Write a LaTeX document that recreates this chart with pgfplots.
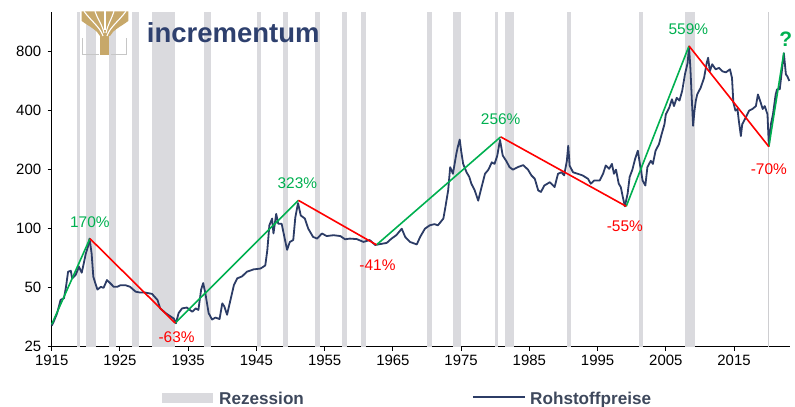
\documentclass[border=0pt]{standalone}
\usepackage{fontspec}
\setmainfont{Liberation Sans}
\usepackage{pgfplots}
\pgfplotsset{compat=1.18}
\definecolor{recgray}{RGB}{218,218,222}
\definecolor{navyline}{RGB}{44,60,102}
\definecolor{logonavy}{RGB}{46,64,110}
\definecolor{gold}{RGB}{199,168,106}
\definecolor{tgreen}{RGB}{0,176,80}
\definecolor{tred}{RGB}{255,0,0}
\definecolor{legtext}{RGB}{62,72,92}
\begin{document}
\begin{tikzpicture}
\useasboundingbox (-51.7bp,-60.3bp) rectangle (743.3bp,346.7bp);
\begin{axis}[
  at={(0,0)}, anchor=south west,
  scale only axis, width=738.3bp, height=334.4bp,
  xmin=1915, xmax=2023.2, ymin=25, ymax=1270, ymode=log,
  axis x line*=bottom, axis y line*=left,
  axis line style={-, black, line width=1.3bp},
  xtick={1915,1925,1935,1945,1955,1965,1975,1985,1995,2005,2015},
  xticklabels={1915,1925,1935,1945,1955,1965,1975,1985,1995,2005,2015},
  ytick={25,50,100,200,400,800},
  yticklabels={25,50,100,200,400,800},
  minor tick num=0, yminorticks=false,
  tick align=outside, major tick length=4bp,
  tick style={black, line width=1bp},
  ticklabel style={font=\fontsize{15}{15}\selectfont},
  yticklabel style={xshift=-3bp},
  xticklabel style={yshift=-1bp},
  clip=false,
]
% recession bands
\foreach \a/\b in {1918.66/1919.14,1920.02/1921.48,1923.39/1924.41,1926.75/1927.78,1929.63/1933.04,1937.33/1938.31,1945.05/1945.67,1948.85/1949.68,1953.53/1954.26,1957.59/1958.22,1960.27/1961.0,1969.93/1970.76,1973.88/1975.05,1980.02/1980.46,1981.48/1982.75,1990.46/1991.04,2001.1/2001.7,2007.87/2009.29}{
  \edef\tmp{\noexpand\addplot[draw=none, fill=recgray] coordinates {(\a,25) (\a,1270) (\b,1270) (\b,25)} -- cycle;}
  \tmp
}
\addplot[color=recgray!85!black!70, line width=0.8bp] coordinates {(2020.02,25) (2020.02,1270)};
% commodity price index
\addplot[navyline, line width=1.8bp, line join=round] coordinates {
(1915.0,32.0) (1915.3,33.6) (1915.8,37.1) (1916.3,43.3) (1916.8,44.2) (1917.1,50.6) (1917.4,60.3) (1917.8,61) (1918.0,55.8) (1918.5,58) (1919.0,63.9) (1919.4,59.6) (1919.7,66.5) (1920.0,74.7) (1920.3,80.7) (1920.55,89) (1920.85,74.7) (1921.1,56.9) (1921.4,52.6) (1921.7,48.9) (1922.2,50.5) (1922.6,49.9) (1923.1,54.7) (1923.6,52.6) (1924.1,50.5) (1924.6,50.5) (1925.1,51.5) (1925.8,51.5) (1926.5,50.5) (1927.3,47.7) (1928.0,47.2) (1928.7,47.2) (1929.7,46.5) (1930.5,43.3) (1930.9,39.2) (1931.7,37.1) (1932.4,35.7) (1932.9,34.8) (1933.2,32.9) (1933.6,37.1) (1934.1,39.2) (1934.8,39.6) (1935.6,37.7) (1936.1,39.2) (1936.5,38.5) (1936.9,48.9) (1937.2,52.8) (1937.5,47.2) (1938.0,37.1) (1938.5,34.4) (1939.0,35.2) (1939.6,34.6) (1940.0,41.6) (1940.3,40.1) (1940.7,36.4) (1941.2,43.3) (1941.7,51.5) (1942.2,55.8) (1942.9,57.1) (1943.6,60.3) (1944.6,62) (1945.6,62.6) (1946.3,64.9) (1946.6,77.7) (1946.9,104) (1947.3,112.6) (1947.5,94.5) (1947.9,119) (1948.2,106) (1948.7,106) (1949.1,90.8) (1949.5,78) (1949.9,85.6) (1950.4,87.5) (1950.7,114) (1951.1,135) (1951.5,116.8) (1952.1,112.6) (1952.6,100) (1953.3,90.8) (1953.9,89) (1954.6,94.5) (1955.3,91.7) (1956.3,92.6) (1957.3,91.7) (1958.0,88.3) (1958.7,89) (1959.7,88.5) (1960.7,85.6) (1961.6,87.5) (1962.4,82.6) (1963.1,83.4) (1964.1,84.6) (1964.8,89) (1965.5,92.6) (1966.3,100) (1966.8,90.8) (1967.5,85.6) (1968.5,83.1) (1969.0,90.8) (1969.7,100) (1970.4,104) (1971.1,105.5) (1971.6,104) (1972.4,112.6) (1972.7,129) (1973.1,156.7) (1973.4,206) (1973.8,190.5) (1974.3,241) (1974.5,260) (1974.8,285) (1975.0,250) (1975.3,214) (1975.8,194) (1976.2,183.5) (1976.5,169.6) (1977.0,156.7) (1977.5,139) (1978.0,163) (1978.5,190.5) (1979.0,200) (1979.5,218) (1979.9,214) (1980.3,236) (1980.7,284) (1981.1,236) (1981.6,222) (1982.1,206) (1982.6,200) (1983.3,206) (1984.1,211) (1984.8,200) (1985.3,187) (1985.8,179.6) (1986.3,156.7) (1986.7,154) (1987.2,166) (1988.0,172.6) (1988.7,163) (1989.2,190.5) (1989.7,194) (1990.1,187) (1990.5,222) (1990.7,265) (1990.9,210) (1991.4,194) (1992.1,190.5) (1992.8,187) (1993.6,179.6) (1994.0,169.6) (1994.5,176) (1995.3,176) (1995.8,190.5) (1996.2,210) (1996.7,202) (1997.1,214) (1997.4,190.5) (1997.7,200) (1998.1,169.6) (1998.4,163) (1998.7,145) (1999.0,130) (1999.4,150.8) (1999.7,183.5) (2000.1,200) (2000.5,227) (2000.9,250) (2001.2,214) (2001.6,176) (2002.0,166) (2002.3,206) (2002.8,222) (2003.1,214) (2003.5,250) (2004.0,270) (2004.4,304.5) (2004.8,341) (2005.0,383) (2005.5,414) (2005.9,457) (2006.2,422) (2006.6,465) (2007.0,450) (2007.4,505) (2007.8,612) (2008.2,702) (2008.4,850) (2008.6,661) (2008.8,465) (2009.0,335) (2009.2,400) (2009.4,450) (2009.6,484) (2010.1,523) (2010.6,587) (2011.0,702) (2011.2,745) (2011.45,635) (2011.8,690) (2012.3,650) (2012.8,661) (2013.3,635) (2013.8,627) (2014.4,650) (2014.7,587) (2014.9,440) (2015.2,400) (2015.5,408) (2015.7,355) (2016.0,297) (2016.2,341) (2016.7,368) (2017.2,400) (2017.7,408) (2018.2,422) (2018.5,484) (2018.9,440) (2019.2,408) (2019.5,422) (2019.9,383) (2020.1,265) (2020.4,341) (2020.7,383) (2021.1,484) (2021.3,514) (2021.7,514) (2022.0,635) (2022.3,785) (2022.6,612) (2022.8,600) (2023.1,567)
};
% trend lines
\addplot[tgreen, line width=1.6bp] coordinates {(1915.0,32.5) (1920.6,89)};
\addplot[tgreen, line width=1.6bp] coordinates {(1933.1,33) (1951.15,139.5)};
\addplot[tgreen, line width=1.6bp] coordinates {(1962.6,82.7) (1980.8,294)};
\addplot[tgreen, line width=1.6bp] coordinates {(1999.2,130) (2008.4,855)};
\addplot[tgreen, line width=1.6bp] coordinates {(2020.1,262) (2022.3,790)};
\addplot[tred, line width=1.6bp] coordinates {(1920.6,89) (1933.1,33)};
\addplot[tred, line width=1.6bp] coordinates {(1951.15,139.5) (1962.6,82.7)};
\addplot[tred, line width=1.6bp] coordinates {(1980.8,294) (1999.2,130)};
\addplot[tred, line width=1.6bp] coordinates {(2008.4,855) (2020.1,262)};
% annotations
\node[tgreen, font=\fontsize{15.5}{16}\selectfont] at (axis cs:1920.6,108) {170\%};
\node[tred, font=\fontsize{15.5}{16}\selectfont] at (axis cs:1933.3,28.0) {-63\%};
\node[tgreen, font=\fontsize{15.5}{16}\selectfont] at (axis cs:1951.0,170.5) {323\%};
\node[tred, font=\fontsize{15.5}{16}\selectfont] at (axis cs:1962.75,65.3) {-41\%};
\node[tgreen, font=\fontsize{15.5}{16}\selectfont] at (axis cs:1980.8,363) {256\%};
\node[tred, font=\fontsize{15.5}{16}\selectfont] at (axis cs:1999.0,103) {-55\%};
\node[tgreen, font=\fontsize{15.5}{16}\selectfont] at (axis cs:2008.3,1045) {559\%};
\node[tred, font=\fontsize{15.5}{16}\selectfont] at (axis cs:2020.1,202) {-70\%};
\node[tgreen, font=\bfseries\fontsize{21}{21}\selectfont, anchor=east, inner sep=0pt] at (axis cs:2023.55,929) {?};
\end{axis}
% logo and legend in picture pixel coordinates
\begin{scope}[x=1bp, y=-1bp, shift={(-51.7bp,346.7bp)}]
  % tree crown
  \fill[gold] (81.7,11.3) -- (128.3,11.3) -- (128.3,21) .. controls (120,27) and (113,30) .. (110,36) -- (100,36) .. controls (97,30) and (90,27) .. (81.7,21) -- cycle;
  \fill[gold] (100.5,33) rectangle (109.5,55);
  \draw[white, line width=1.1bp] (103,36) .. controls (100,27) and (92,22) .. (84,11.3);
  \draw[white, line width=1.1bp] (104,33) .. controls (102,24) and (97,18) .. (95,11.3);
  \draw[white, line width=1.1bp] (106,33) .. controls (108,24) and (112,18) .. (114,11.3);
  \draw[white, line width=1.1bp] (107,36) .. controls (110,27) and (118,22) .. (126,11.3);
  \draw[white, line width=1.1bp] (105,30) -- (105,11.3);
  \draw[gray!45, line width=1.1bp] (82.5,38) -- (82.5,54.2) -- (99,54.2);
  \draw[gray!45, line width=1.1bp] (111,54.2) -- (126.8,54.2) -- (126.8,38);
  \node[anchor=base west, inner sep=0pt, logonavy, font=\bfseries\fontsize{27.6}{28}\selectfont] at (146.7,42.3) {incrementum};
  % legend
  \fill[recgray] (161.7,392.7) rectangle (213.3,403.3);
  \node[anchor=base west, inner sep=0pt, legtext, font=\bfseries\fontsize{17.2}{18}\selectfont] at (219,404.3) {Rezession};
  \draw[navyline, line width=2bp] (473,397.5) -- (525,397.5);
  \node[anchor=base west, inner sep=0pt, legtext, font=\bfseries\fontsize{17.2}{18}\selectfont] at (530,404.3) {Rohstoffpreise};
\end{scope}
\end{tikzpicture}
\end{document}
